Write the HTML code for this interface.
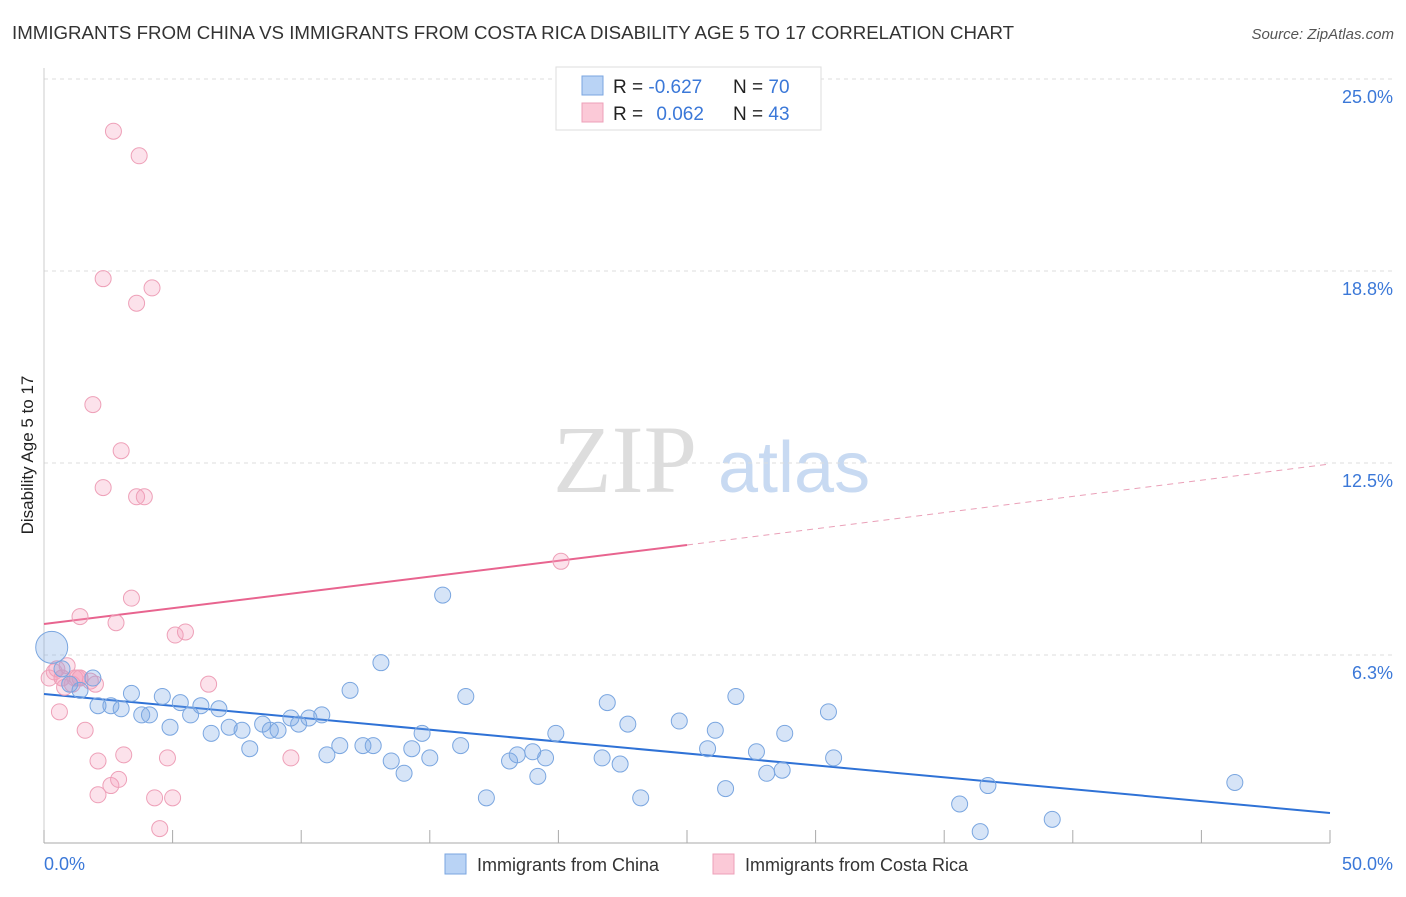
<!DOCTYPE html>
<html><head><meta charset="utf-8"><style>
body{margin:0;background:#fff;font-family:"Liberation Sans",sans-serif;}
svg text{font-family:"Liberation Sans",sans-serif;}
</style></head><body>
<svg id="chart" width="1406" height="892">
<text x="12" y="39" font-size="18.7" fill="#333">IMMIGRANTS FROM CHINA VS IMMIGRANTS FROM COSTA RICA DISABILITY AGE 5 TO 17 CORRELATION CHART</text>
<text x="1394" y="39" font-size="15" fill="#555" font-style="italic" text-anchor="end">Source: ZipAtlas.com</text>
<text x="0" y="0" font-size="17" fill="#222" transform="translate(33,455) rotate(-90)" text-anchor="middle">Disability Age 5 to 17</text>
<g><text x="553" y="492" font-size="96" fill="#ddd" font-family="Liberation Serif" style="font-family:'Liberation Serif',serif">ZIP</text><text x="718" y="492" font-size="72" fill="#c8daf2">atlas</text></g>
<g id="grid"></g><g id="axes"></g><g id="lines"></g><g id="pts"></g>
<g>
<rect x="556" y="67" width="265" height="63" fill="#fff" stroke="#ddd"/>
<rect x="582" y="76" width="21" height="19" fill="#b9d3f5" stroke="#7aa6e0"/>
<rect x="582" y="103" width="21" height="19" fill="#fbc9d7" stroke="#eea0b8"/>
<text x="613" y="93" font-size="19" fill="#222">R = <tspan fill="#3b78d8">-0.627</tspan></text>
<text x="733" y="93" font-size="19" fill="#222">N = <tspan fill="#3b78d8">70</tspan></text>
<text x="613" y="120" font-size="19" fill="#222">R = <tspan fill="#3b78d8" dx="8">0.062</tspan></text>
<text x="733" y="120" font-size="19" fill="#222">N = <tspan fill="#3b78d8">43</tspan></text>
</g>
<g>
<rect x="445" y="854" width="21" height="20" fill="#b9d3f5" stroke="#7aa6e0"/>
<text x="477" y="871" font-size="18" fill="#333">Immigrants from China</text>
<rect x="713" y="854" width="21" height="20" fill="#fbc9d7" stroke="#eea0b8"/>
<text x="745" y="871" font-size="18" fill="#333">Immigrants from Costa Rica</text>
</g>
</svg>
<script>
const yTicks=[25,18.75,12.5,6.25];
const yTickLabels=["25.0%","18.8%","12.5%","6.3%"];
const xLabels=["0.0%","50.0%"];
const chinaX=[0.3,0.7,1.0,1.4,1.9,2.1,2.6,3.0,3.4,3.8,4.1,4.6,4.9,5.3,5.7,6.1,6.5,6.8,7.2,7.7,8.0,8.5,8.8,9.1,9.6,9.9,10.3,10.8,11.0,11.5,11.9,12.4,12.8,13.1,13.5,14.0,14.3,14.7,15.0,15.5,16.2,16.4,17.2,18.1,18.4,19.0,19.2,19.5,19.9,21.7,21.9,22.4,22.7,23.2,24.7,25.8,26.1,26.5,26.9,27.7,28.1,28.7,28.8,30.5,30.7,35.6,36.4,36.7,39.2,46.3];
const chinaY=[6.5,5.8,5.3,5.1,5.5,4.6,4.6,4.5,5.0,4.3,4.3,4.9,3.9,4.7,4.3,4.6,3.7,4.5,3.9,3.8,3.2,4.0,3.8,3.8,4.2,4.0,4.2,4.3,3.0,3.3,5.1,3.3,3.3,6.0,2.8,2.4,3.2,3.7,2.9,8.2,3.3,4.9,1.6,2.8,3.0,3.1,2.3,2.9,3.7,2.9,4.7,2.7,4.0,1.6,4.1,3.2,3.8,1.9,4.9,3.1,2.4,2.5,3.7,4.4,2.9,1.4,0.5,2.0,0.9,2.1];
const ricaX=[0.2,0.4,0.5,0.6,0.7,0.9,1.1,1.2,1.3,1.4,1.4,1.6,1.8,1.9,2.0,2.1,2.1,2.3,2.3,2.6,2.7,2.9,2.8,3.0,3.1,3.6,3.4,3.6,3.7,3.9,4.2,4.5,4.3,4.8,5.1,5.5,6.4,5.0,20.1,9.6,0.7,0.8,1.4];
const ricaY=[5.5,5.7,5.8,4.4,5.5,5.9,5.3,5.5,5.5,7.5,5.5,3.8,5.4,14.4,5.3,2.8,1.7,11.7,18.5,2.0,23.3,2.2,7.3,12.9,3.0,11.4,8.1,17.7,22.5,11.4,18.2,0.6,1.6,2.9,6.9,7.0,5.3,1.6,9.3,2.9,5.5,5.2,5.5];
const X=v=>44+v*25.72, Y=v=>847-v*30.72;
const NS="http://www.w3.org/2000/svg";
function mk(tag,attrs,parent){const e=document.createElementNS(NS,tag);for(const k in attrs)e.setAttribute(k,attrs[k]);document.getElementById(parent).appendChild(e);return e;}
yTicks.forEach((t,i)=>{
 let l=mk('line',{x1:44,x2:1394,y1:Y(t),y2:Y(t),stroke:'#ddd','stroke-dasharray':'4,4'},'grid');
 
 
 let tx=mk('text',{x:1393,y:Y(t)+24,'font-size':18,fill:'#3b78d8','text-anchor':'end'},'grid');tx.textContent=yTickLabels[i];
 
 
});
let ax=mk('line',{x1:44,x2:1330,y1:843,y2:843,stroke:'#aaa'},'axes');


let ay=mk('line',{x1:44,x2:44,y1:68,y2:843,stroke:'#ccc'},'axes');


for(let i=0;i<=10;i++){let t=mk('line',{x1:X(i*5),x2:X(i*5),y1:830,y2:843,stroke:'#aaa'},'axes');
 
 }
let xl0=mk('text',{x:44,y:870,'font-size':18,fill:'#3b78d8'},'axes');xl0.textContent=xLabels[0];


let xl1=mk('text',{x:1393,y:870,'font-size':18,fill:'#3b78d8','text-anchor':'end'},'axes');xl1.textContent=xLabels[1];


let bl=mk('line',{x1:X(0),y1:694,x2:X(50),y2:813,stroke:'#2f72d6','stroke-width':2},'lines');


let pl=mk('line',{x1:X(0),y1:624,x2:X(25),y2:545,stroke:'#e8648f','stroke-width':2},'lines');


let pd=mk('line',{x1:X(25),y1:545,x2:X(50),y2:464,stroke:'#eaa0b8','stroke-width':1,'stroke-dasharray':'6,5'},'lines');


ricaX.forEach((v,i)=>{let c=mk('circle',{cx:X(v),cy:Y(ricaY[i]),r:8,fill:'rgba(245,160,190,0.3)',stroke:'#eea0b8'},'pts');
 
 });
chinaX.forEach((v,i)=>{let c=mk('circle',{cx:X(v),cy:Y(chinaY[i]),r:i==0?16:8,fill:'rgba(120,165,230,0.3)',stroke:'#7aa6e0'},'pts');
 
 });
</script>
</body></html>
